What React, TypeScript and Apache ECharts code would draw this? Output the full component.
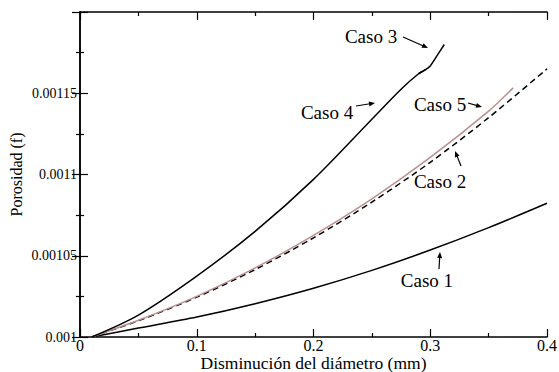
import React, { useEffect, useRef } from "react";
import * as echarts from "echarts";

// ---- data ----
const caso1X = [0.01, 0.05, 0.1, 0.15, 0.2, 0.25, 0.3, 0.35, 0.4];
const caso1Y = [0.001, 0.0010055, 0.0010123, 0.0010205, 0.00103, 0.001041, 0.0010535, 0.0010673, 0.0010823];

const caso2X = [0.01, 0.05, 0.1, 0.15, 0.2, 0.25, 0.3, 0.35, 0.4];
const caso2Y = [0.001, 0.00101, 0.0010245, 0.0010415, 0.001061, 0.001083, 0.0011075, 0.001135, 0.001165];

const caso5X = [0.01, 0.05, 0.1, 0.15, 0.2, 0.25, 0.3, 0.35, 0.371];
const caso5Y = [0.001, 0.0010103, 0.001025, 0.0010425, 0.0010625, 0.001085, 0.0011105, 0.001139, 0.0011533];

const caso4X = [0.01, 0.05, 0.1, 0.15, 0.2, 0.25, 0.275, 0.29, 0.296];
const caso4Y = [0.001, 0.0010135, 0.0010375, 0.001065, 0.001097, 0.001134, 0.0011525, 0.001162, 0.0011645];

const caso3X = [0.29, 0.296, 0.3, 0.305, 0.312];
const caso3Y = [0.001162, 0.0011645, 0.0011668, 0.0011722, 0.00118];

const xTicks = [0, 0.1, 0.2, 0.3, 0.4];
const yTickLabels = ["0.001", "0.00105", "0.0011", "0.00115"];

// annotation labels, placed in data coordinates
const noteNames = ["Caso 3", "Caso 4", "Caso 5", "Caso 2", "Caso 1"];
const noteX = [0.2493, 0.2116, 0.3084, 0.3084, 0.2972];
const noteY = [0.001185, 0.0011383, 0.0011433, 0.0010954, 0.0010347];

const FONT = "Liberation Serif";

const zip = (xs: number[], ys: number[]) => xs.map((x, i) => [x, ys[i]]);

// arrows (pixel positions)
const arrows = [
  [403, 37, 428, 48],
  [356, 106, 375, 103],
  [468, 103, 482, 107],
  [461, 166, 455, 151],
  [439, 269, 440, 252],
];

function arrowGraphics(a: number[]) {
  const [x1, y1, x2, y2] = a;
  const dx = x2 - x1;
  const dy = y2 - y1;
  const len = Math.sqrt(dx * dx + dy * dy);
  const ux = dx / len;
  const uy = dy / len;
  const hl = 6;
  const hw = 2.5;
  const bx = x2 - ux * hl;
  const by = y2 - uy * hl;
  return [
    {
      type: "line",
      shape: { x1, y1, x2: bx + ux, y2: by + uy },
      style: { stroke: "#000", lineWidth: 1.2 },
    },
    {
      type: "polygon",
      shape: {
        points: [
          [x2, y2],
          [bx - uy * hw, by + ux * hw],
          [bx + uy * hw, by - ux * hw],
        ],
      },
      style: { fill: "#000" },
    },
  ];
}

const fmt = (v: number) => String(parseFloat(v.toFixed(6)));

export default function App() {
  const ref = useRef<HTMLDivElement>(null);
  useEffect(() => {
    if (!ref.current) return;
    const chart = echarts.init(ref.current, undefined, { renderer: "svg" });
    const axisLine = { show: true, lineStyle: { color: "#000", width: 1.5 } };
    const tick = { show: true, inside: true, length: 8, lineStyle: { color: "#000", width: 1.2 } };
    const minor = { show: true, splitNumber: 2, length: 4, lineStyle: { color: "#000", width: 1.2 } };
    const xCommon = {
      type: "value",
      min: 0,
      max: 0.4,
      interval: 0.1,
      axisLine,
      axisTick: tick,
      minorTick: minor,
      splitLine: { show: false },
    };
    const yCommon = {
      type: "value",
      min: 0.001,
      max: 0.0012,
      interval: 0.00005,
      axisLine,
      axisTick: tick,
      minorTick: minor,
      splitLine: { show: false },
    };
    const curve = (name: string, xs: number[], ys: number[], lineStyle: any, smooth = 0.3) => ({
      name,
      type: "line",
      data: zip(xs, ys),
      smooth,
      showSymbol: false,
      lineStyle,
    });
    chart.setOption({
      animation: false,
      backgroundColor: "#fff",
      textStyle: { fontFamily: FONT },
      grid: { left: 80, right: 12, top: 12, bottom: 35, containLabel: false, outerBoundsMode: "none" },
      xAxis: [
        {
          ...xCommon,
          position: "bottom",
          name: "Disminución del diámetro (mm)",
          nameLocation: "middle",
          nameGap: 17,
          nameMoveOverlap: false,
          nameTextStyle: { fontFamily: FONT, fontSize: 17.5, color: "#000" },
          axisLabel: {
            show: true,
            fontFamily: FONT,
            fontSize: 16,
            color: "#000",
            margin: 0,
            formatter: (v: number) => {
              const s = fmt(v);
              return xTicks.map(String).includes(s) ? s : "";
            },
          },
        },
        { ...xCommon, position: "top", axisLabel: { show: false } },
      ],
      yAxis: [
        {
          ...yCommon,
          position: "left",
          name: "Porosidad (f)",
          nameLocation: "middle",
          nameGap: 56,
          nameRotate: 90,
          nameMoveOverlap: false,
          nameTextStyle: { fontFamily: FONT, fontSize: 16, color: "#000" },
          axisLabel: {
            show: true,
            fontFamily: FONT,
            fontSize: 14,
            color: "#000",
            margin: 3,
            formatter: (v: number) => {
              const s = fmt(v);
              return yTickLabels.includes(s) ? s : "";
            },
          },
        },
        { ...yCommon, position: "right", axisLabel: { show: false } },
      ],
      series: [
        curve("Caso 1", caso1X, caso1Y, { color: "#000", width: 1.5 }),
        curve("Caso 2", caso2X, caso2Y, { color: "#000", width: 1.5, type: [6, 4] }),
        curve("Caso 5", caso5X, caso5Y, { color: "#bc8f8f", width: 1.5 }),
        curve("Caso 4", caso4X, caso4Y, { color: "#000", width: 1.5 }),
        curve("Caso 3", caso3X, caso3Y, { color: "#000", width: 1.5 }, 0.2),
        {
          name: "notes",
          type: "scatter",
          silent: true,
          symbolSize: 1,
          itemStyle: { color: "rgba(0,0,0,0)" },
          data: noteNames.map((n, i) => ({ name: n, value: [noteX[i], noteY[i]] })),
          label: {
            show: true,
            position: "inside",
            formatter: (p: any) => p.name,
            fontFamily: FONT,
            fontSize: 19,
            color: "#000",
            opacity: 1,
          },
        },
      ],
      graphic: arrows.flatMap(arrowGraphics),
    });
    return () => chart.dispose();
  }, []);
  return <div ref={ref} style={{ position: "fixed", left: 0, top: 0, width: 559, height: 372 }} />;
}
